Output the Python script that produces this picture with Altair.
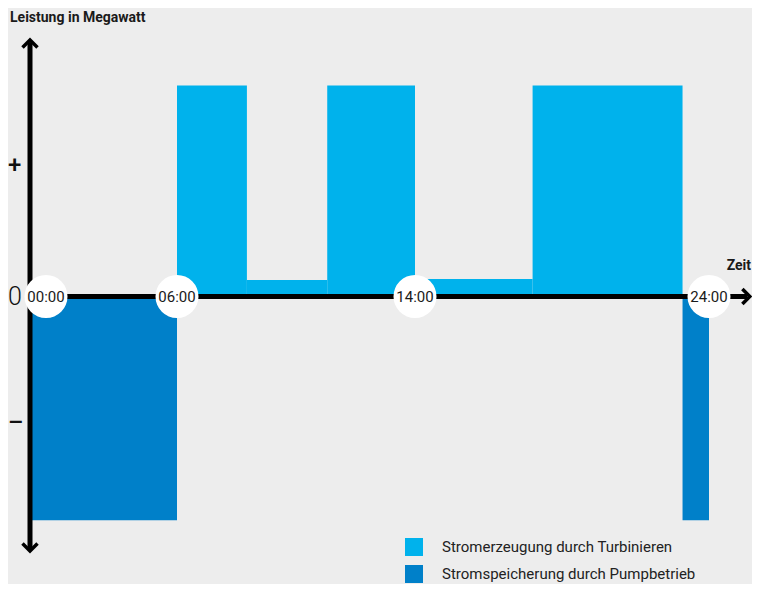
import altair as alt
import pandas as pd

# ---- data ----
bar_start = [0, 6, 8.35, 11.05, 14, 18, 23.1]
bar_end = [6, 8.35, 11.05, 14, 18, 23.1, 24]
bar_value = [-106, 100, 7.8, 100, 8.3, 100, -106]
TURB = "Stromerzeugung durch Turbinieren"
PUMP = "Stromspeicherung durch Pumpbetrieb"
bar_type = [PUMP, TURB, TURB, TURB, TURB, TURB, PUMP]

time_pos = [0, 6, 14, 24]
time_labels = ["00:00", "06:00", "14:00", "24:00"]

ytick_values = [62, 0, -60]
ytick_labels = ["+", "0", "–"]

Y_AX = [-120, 120.5]
X_AX_END = 25.3
Y_TIP = [121.6, -120.6]
X_TIP = 25.39

LIGHT = "#00B2EC"
DARK = "#0080C9"
BG = "#EDEDED"

bars = pd.DataFrame({"t0": bar_start, "t1": bar_end, "v": bar_value, "Typ": bar_type})
times = pd.DataFrame({"t": time_pos, "label": time_labels})

xs = alt.Scale(domain=[0, 6, 14, 24], range=[22, 169, 407, 701], nice=False, zero=False)
ys = alt.Scale(domain=[-125, 125], range=[552.25, 24.75], nice=False, zero=False)

X = lambda f: alt.X(f, type="quantitative", scale=xs, axis=None)
Y = lambda f: alt.Y(f, type="quantitative", scale=ys, axis=None)

rects = alt.Chart(bars).mark_rect().encode(
    x=X("t0"), x2="t1", y=Y("v"), y2=alt.datum(0),
    color=alt.Color("Typ:N", scale=alt.Scale(domain=[TURB, PUMP], range=[LIGHT, DARK]),
                    legend=alt.Legend(title=None, orient="none", legendX=397, legendY=530,
                                      symbolType="square", symbolSize=324, symbolStrokeWidth=0,
                                      symbolOpacity=1, labelFont="Roboto", labelFontSize=15,
                                      labelColor="#222222", labelOffset=19, rowPadding=9,
                                      labelLimit=0, padding=0)),
)

yaxis = alt.Chart(pd.DataFrame({"a": [Y_AX[0]], "b": [Y_AX[1]]})).transform_calculate(z="0").mark_rule(
    color="black", strokeWidth=5).encode(x=X("z:Q"), y=Y("a"), y2="b")

xaxis = alt.Chart(pd.DataFrame({"a": [0], "b": [X_AX_END]})).transform_calculate(z="0").mark_rule(
    color="black", strokeWidth=5).encode(x=X("a"), x2="b", y=Y("z:Q"))

arrow_style = dict(size=225, filled=False, stroke="black", strokeWidth=3.5, strokeJoin="miter", opacity=1)
up = alt.Chart(pd.DataFrame({"y": [Y_TIP[0]]})).transform_calculate(z="0").mark_point(
    shape="M-1,1L0,0L1,1", **arrow_style).encode(x=X("z:Q"), y=Y("y"))
down = alt.Chart(pd.DataFrame({"y": [Y_TIP[1]]})).transform_calculate(z="0").mark_point(
    shape="M-1,-1L0,0L1,-1", **arrow_style).encode(x=X("z:Q"), y=Y("y"))
right = alt.Chart(pd.DataFrame({"x": [X_TIP]})).transform_calculate(z="0").mark_point(
    shape="M-1,-1L0,0L-1,1", **arrow_style).encode(x=X("x"), y=Y("z:Q"))

circ_first = alt.Chart(times).transform_filter("datum.t == 0").transform_calculate(z="0").mark_point(
    shape="circle", size=1850, filled=True, color="white", opacity=1).encode(
    x=X("t"), y=Y("z:Q"), xOffset=alt.value(16))
circ_rest = alt.Chart(times).transform_filter("datum.t != 0").transform_calculate(z="0").mark_point(
    shape="circle", size=1850, filled=True, color="white", opacity=1).encode(
    x=X("t"), y=Y("z:Q"))
txt_first = alt.Chart(times).transform_filter("datum.t == 0").transform_calculate(z="0").mark_text(
    font="Roboto", fontSize=15, color="#1a1a1a", baseline="middle", align="center").encode(
    x=X("t"), y=Y("z:Q"), xOffset=alt.value(16), text="label:N")
txt_rest = alt.Chart(times).transform_filter("datum.t != 0").transform_calculate(z="0").mark_text(
    font="Roboto", fontSize=15, color="#1a1a1a", baseline="middle", align="center").encode(
    x=X("t"), y=Y("z:Q"), text="label:N")

ticks = pd.DataFrame({"v": ytick_values, "label": ytick_labels})
tick_sign = alt.Chart(ticks).transform_filter("datum.v != 0").mark_text(
    font="Roboto", fontSize=24, fontWeight=500, color="#111", align="left", baseline="middle").encode(
    x=alt.value(0), y=Y("v"), text="label:N")
tick_zero = alt.Chart(ticks).transform_filter("datum.v == 0").mark_text(
    font="Roboto", fontSize=25, fontWeight=300, color="#111", align="left", baseline="middle").encode(
    x=alt.value(0), y=Y("v"), text="label:N")

ytitle = alt.Chart(pd.DataFrame({"s": ["Leistung in Megawatt"]})).mark_text(
    font="Roboto", fontSize=14, fontWeight="bold", color="#1a1a1a", align="left", baseline="middle").encode(
    x=alt.value(2), y=alt.value(10), text="s:N")
xtitle = alt.Chart(pd.DataFrame({"s": ["Zeit"]})).mark_text(
    font="Roboto", fontSize=14, fontWeight="bold", color="#1a1a1a", align="right", baseline="middle").encode(
    x=alt.value(743), y=alt.value(258), text="s:N")

chart = alt.layer(
    rects, xaxis, yaxis, up, down, right, circ_first, circ_rest, txt_first, txt_rest,
    tick_sign, tick_zero, ytitle, xtitle
).properties(
    width=744, height=576, background=BG, padding=0, autosize=alt.AutoSizeParams(type="none")
).configure_view(stroke=None)

chart.save("out.html", embed_options={"renderer": "svg", "actions": False})
